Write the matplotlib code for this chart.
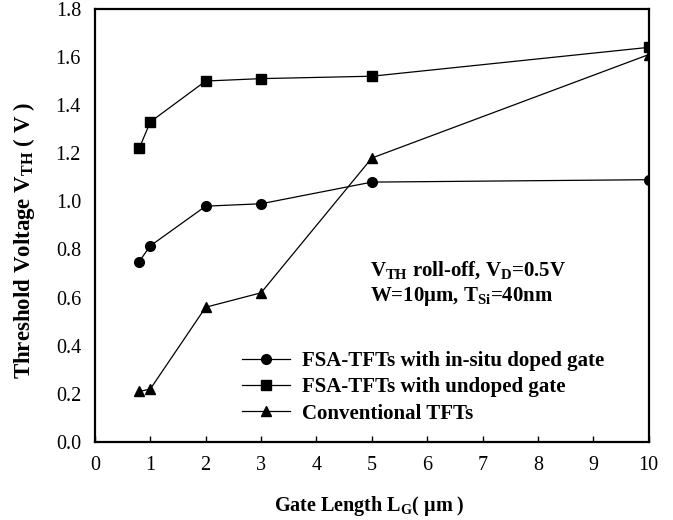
import matplotlib
matplotlib.use("Agg")
import matplotlib.pyplot as plt

# gate length (um)
lg_doped = [0.8, 1, 2, 3, 5, 10]
vth_doped = [0.75, 0.815, 0.98, 0.99, 1.08, 1.09]

lg_undoped = [0.8, 1, 2, 3, 5, 10]
vth_undoped = [1.22, 1.33, 1.50, 1.51, 1.52, 1.64]

lg_conv = [0.8, 1, 2, 3, 5, 10]
vth_conv = [0.21, 0.22, 0.56, 0.62, 1.18, 1.61]

x_ticks = [0, 1, 2, 3, 4, 5, 6, 7, 8, 9, 10]
y_ticks = [0.0, 0.2, 0.4, 0.6, 0.8, 1.0, 1.2, 1.4, 1.6, 1.8]

plt.rcParams["font.family"] = ["Liberation Serif", "DejaVu Serif"]
plt.rcParams["mathtext.fontset"] = "custom"
plt.rcParams["mathtext.rm"] = "Liberation Serif"
plt.rcParams["mathtext.bf"] = "Liberation Serif:bold"
plt.rcParams["mathtext.it"] = "Liberation Serif:italic"
plt.rcParams["mathtext.default"] = "bf"

fig = plt.figure(figsize=(6.73, 5.2), dpi=100)
ax = fig.add_axes([0.141, 0.15, 0.823, 0.833])

ax.plot(lg_doped, vth_doped, "-o", color="black", lw=0.9, ms=7,
        label="FSA-TFTs with in-situ doped gate")
ax.plot(lg_undoped, vth_undoped, "-s", color="black", lw=0.9, ms=6.5,
        label="FSA-TFTs with undoped gate")
ax.plot(lg_conv, vth_conv, "-^", color="black", lw=0.9, ms=7,
        label="Conventional TFTs")

ax.set_xlim(0, 10)
ax.set_ylim(0, 1.8)
ax.set_xticks(x_ticks)
ax.set_yticks(y_ticks)
ax.set_yticklabels([f"{v:.1f}" for v in y_ticks])
ax.tick_params(axis="x", direction="in", length=4, width=1, pad=10, labelsize=14.5)
ax.tick_params(axis="y", direction="in", length=0, pad=10, labelsize=14.5)
for s in ax.spines.values():
    s.set_linewidth(1.6)

ax.set_xlabel(r"Gate Length L$_{G}$( μm )", fontsize=14.5, fontweight="bold")
ax.set_ylabel(r"Threshold Voltage V$_{TH}$ ( V )", fontsize=16.5, fontweight="bold")
ax.xaxis.set_label_coords(0.495, -0.12)
ax.yaxis.set_label_coords(-0.104, 0.465)

ax.text(4.96, 0.692, r"V$_{TH}$ roll-off, V$_{D}$=0.5V", fontsize=15, fontweight="bold",
        va="baseline", ha="left")
ax.text(4.96, 0.585, r"W=10μm, T$_{Si}$=40nm", fontsize=15, fontweight="bold",
        va="baseline", ha="left")

leg = ax.legend(loc="upper left", bbox_to_anchor=(0.265, 0.21), frameon=False,
                prop={"weight": "bold", "size": 15}, handlelength=2.3,
                labelspacing=0.3, handletextpad=0.6, borderpad=0, borderaxespad=0)

fig.savefig("out.png", dpi=100)
